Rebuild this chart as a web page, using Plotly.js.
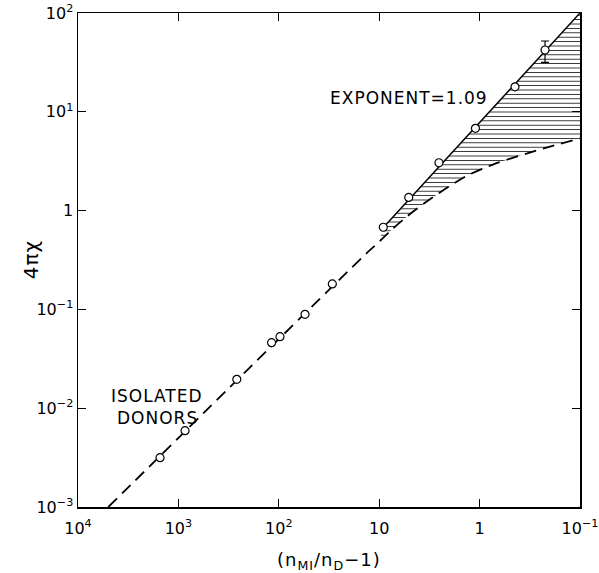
<!DOCTYPE html>
<html>
<head>
<meta charset="utf-8">
<script src="https://cdn.plot.ly/plotly-3.0.1.min.js"></script>
<style>
html,body{margin:0;padding:0;background:#fff;}
#chart{width:599px;height:573px;}
.annotation-text{letter-spacing:1px;}
</style>
</head>
<body>
<div id="chart"></div>
<script>
// Measured points (open circles)
var pointsX = [1524, 859, 262, 118, 97.3, 54.8, 29.3, 9.10, 5.08, 2.54, 1.10, 0.444, 0.223];
var pointsY = [0.00316, 0.00592, 0.0196, 0.0461, 0.0530, 0.0892, 0.181, 0.678, 1.36, 3.05, 6.81, 17.9, 42.2];
// Error bar on the last point
var errPlus = [9.9];
var errMinus = [10.5];
// Dashed curve (isolated donors)
var dashX = [4990, 13.1, 9.82, 7.55, 5.23, 3.42, 2.21, 1.35, 0.679, 0.341, 0.184, 0.1];
var dashY = [0.001, 0.377, 0.492, 0.637, 0.88, 1.22, 1.65, 2.24, 3.02, 3.78, 4.55, 5.37];
// Solid line, exponent = 1.09
var solidX = [9.38, 0.1];
var solidY = [0.651, 100];
// Tick labels
var xTickVals = [10000, 1000, 100, 10, 1, 0.1];
var xTickText = ['10<sup>4</sup>', '10<sup>3</sup>', '10<sup>2</sup>', '10', '1', '10<sup>−1</sup>'];
var yTickVals = [0.001, 0.01, 0.1, 1, 10, 100];
var yTickText = ['10<sup>−3</sup>', '10<sup>−2</sup>', '10<sup>−1</sup>', '1', '10<sup>1</sup>', '10<sup>2</sup>'];

// Hatched region between solid line and dashed curve
var lowerX = [], lowerY = [];
for (var i = dashX.length - 1; i >= 0; i--) {
  if (dashX[i] < 10) { lowerX.push(dashX[i]); lowerY.push(dashY[i]); }
}
var hatchX = solidX.concat(lowerX);
var hatchY = solidY.concat(lowerY);

var n = pointsX.length;
var traces = [
  {
    x: hatchX, y: hatchY, mode: 'lines', fill: 'toself',
    line: {width: 0, color: 'rgba(0,0,0,0)'},
    fillcolor: 'white',
    fillpattern: {shape: '-', size: 4.4, solidity: 0.2, fgcolor: '#222', bgcolor: 'white', fillmode: 'replace'},
    hoverinfo: 'skip', showlegend: false
  },
  {
    x: dashX, y: dashY, mode: 'lines',
    line: {color: 'black', width: 1.8, dash: '12px,7px', shape: 'spline', smoothing: 0.8},
    showlegend: false
  },
  {
    x: solidX, y: solidY, mode: 'lines',
    line: {color: 'black', width: 1.5},
    showlegend: false
  },
  {
    x: pointsX.slice(0, n - 1), y: pointsY.slice(0, n - 1), mode: 'markers',
    marker: {symbol: 'circle', size: 8, color: 'white', line: {color: 'black', width: 1.2}},
    showlegend: false
  },
  {
    x: [pointsX[n - 1]], y: [pointsY[n - 1]], mode: 'markers',
    marker: {symbol: 'circle', size: 8, color: 'white', line: {color: 'black', width: 1.2}},
    error_y: {type: 'data', symmetric: false, array: errPlus, arrayminus: errMinus, width: 4, thickness: 1.2, color: 'black'},
    showlegend: false
  }
];

var axisCommon = {
  type: 'log', showgrid: false, zeroline: false,
  showline: true, linecolor: 'black', linewidth: 1.5, mirror: 'ticks',
  ticks: 'inside', ticklen: 8, tickwidth: 1.2, tickcolor: 'black',
  tickmode: 'array', ticklabeloverflow: 'allow',
  tickfont: {family: 'DejaVu Sans', size: 16, color: 'black'}
};

var layout = {
  width: 599, height: 573,
  margin: {l: 78, r: 19, t: 13, b: 66},
  paper_bgcolor: 'white', plot_bgcolor: 'white',
  font: {family: 'DejaVu Sans', color: 'black'},
  xaxis: Object.assign({}, axisCommon, {range: [4, -1], tickvals: xTickVals, ticktext: xTickText, ticklabelstandoff: 6}),
  yaxis: Object.assign({}, axisCommon, {range: [-3, 2], tickvals: yTickVals, ticktext: yTickText}),
  annotations: [
    {text: 'EXPONENT=1.09', xref: 'paper', yref: 'paper', x: 0.659, y: 0.828, showarrow: false,
     xanchor: 'center', yanchor: 'middle', font: {size: 17, family: 'DejaVu Sans'}},
    {text: 'ISOLATED', xref: 'paper', yref: 'paper', x: 0.158, y: 0.225, showarrow: false,
     xanchor: 'center', yanchor: 'middle', font: {size: 17, family: 'DejaVu Sans'}},
    {text: 'DONORS', xref: 'paper', yref: 'paper', x: 0.158, y: 0.181, showarrow: false,
     xanchor: 'center', yanchor: 'middle', font: {size: 17, family: 'DejaVu Sans'}},
    {text: '4πχ', xref: 'paper', yref: 'paper', x: -0.093, y: 0.50, showarrow: false, textangle: -90,
     xanchor: 'center', yanchor: 'middle', font: {size: 20, family: 'DejaVu Sans'}},
    {text: '(n<sub>MI</sub>/n<sub>D</sub>−1)', xref: 'paper', yref: 'paper', x: 0.5, y: -0.11, showarrow: false,
     xanchor: 'center', yanchor: 'middle', font: {size: 18, family: 'DejaVu Sans'}}
  ]
};

Plotly.newPlot('chart', traces, layout, {displayModeBar: false, staticPlot: true});
</script>
</body>
</html>
